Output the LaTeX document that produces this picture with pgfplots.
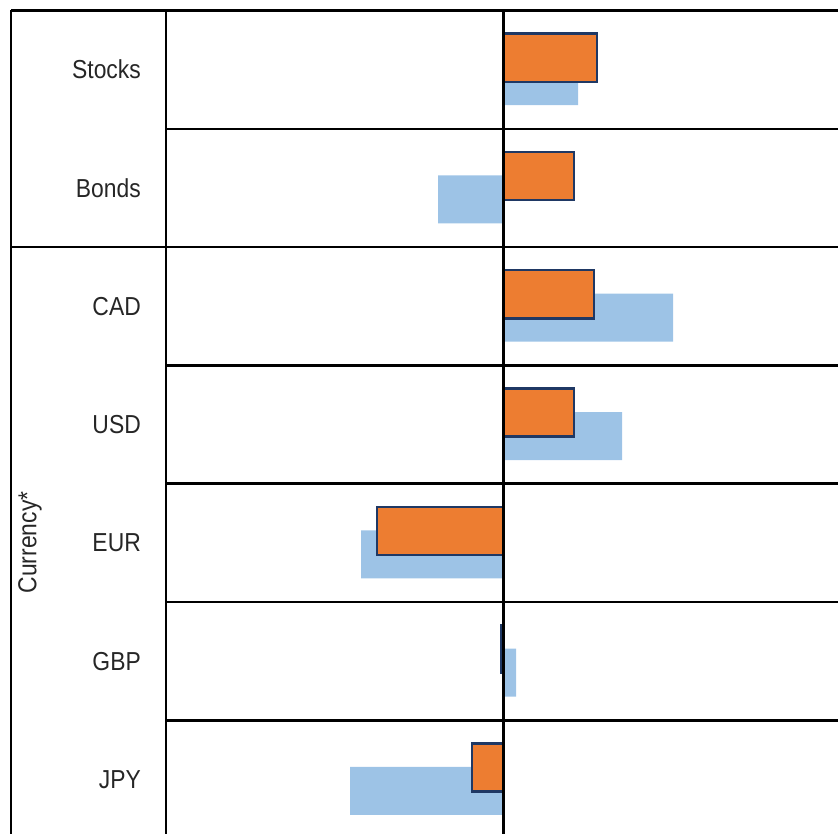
\documentclass[border=0pt]{standalone}
\usepackage{pgfplots}
\pgfplotsset{compat=1.18}
\usepackage{fontspec}
\setmainfont{Liberation Sans}[FakeStretch=0.88]
\definecolor{barorange}{HTML}{ED7D31}
\definecolor{barblue}{HTML}{9DC3E6}
\definecolor{barnavy}{HTML}{1F3864}
\begin{document}
\begin{tikzpicture}[x=1pt,y=1pt]
\path[use as bounding box] (0,0) rectangle (838,834);
\begin{axis}[
  at={(166pt,0pt)}, anchor=south west,
  scale only axis, width=672pt, height=823.5pt,
  xmin=-337.5, xmax=334.5,
  ymin=-0.5, ymax=6.461, y dir=reverse,
  axis line style={draw=none},
  xtick=\empty,
  ytick={0,1,2,3,4,5,6},
  yticklabels={Stocks,Bonds,CAD,USD,EUR,GBP,JPY},
  major tick length=0pt,
  yticklabel style={inner sep=0pt, xshift=-25pt, font=\fontsize{26}{30}\selectfont, text=black!85},
  xbar, bar width=0.406,
  clip=false,
]
\addplot[xbar, fill=barblue, draw=none, bar shift=0.097] coordinates {
  (74.5,0) (-65.5,1) (169.5,2) (118.5,3) (-142.5,4) (12.5,5) (-153.5,6)};
\addplot[xbar, fill=barorange, draw=barnavy, line width=2.4pt, bar shift=-0.101] coordinates {
  (93.5,0) (70.5,1) (90.5,2) (70.5,3) (-126.5,4) (-2,5) (-31.5,6)};
\end{axis}
% table layout lines
\draw[line width=2.7pt] (11,823.5) -- (838,823.5);
\draw[line width=1.6pt] (11,823.5) -- (11,0);
\draw[line width=2.4pt] (166,823.5) -- (166,0);
\foreach \py in {128.8,365.4,483.7,602,720.3} {
  \draw[line width=2.5pt] (166,834-\py) -- (838,834-\py);
}
\draw[line width=2.5pt] (11,834-247.1) -- (838,834-247.1);
\draw[line width=2.8pt] (503.5,823.5) -- (503.5,0);
\node[rotate=90, font=\fontsize{26}{30}\selectfont, text=black!85] at (30,291.5) {Currency*};
\end{tikzpicture}
\end{document}
